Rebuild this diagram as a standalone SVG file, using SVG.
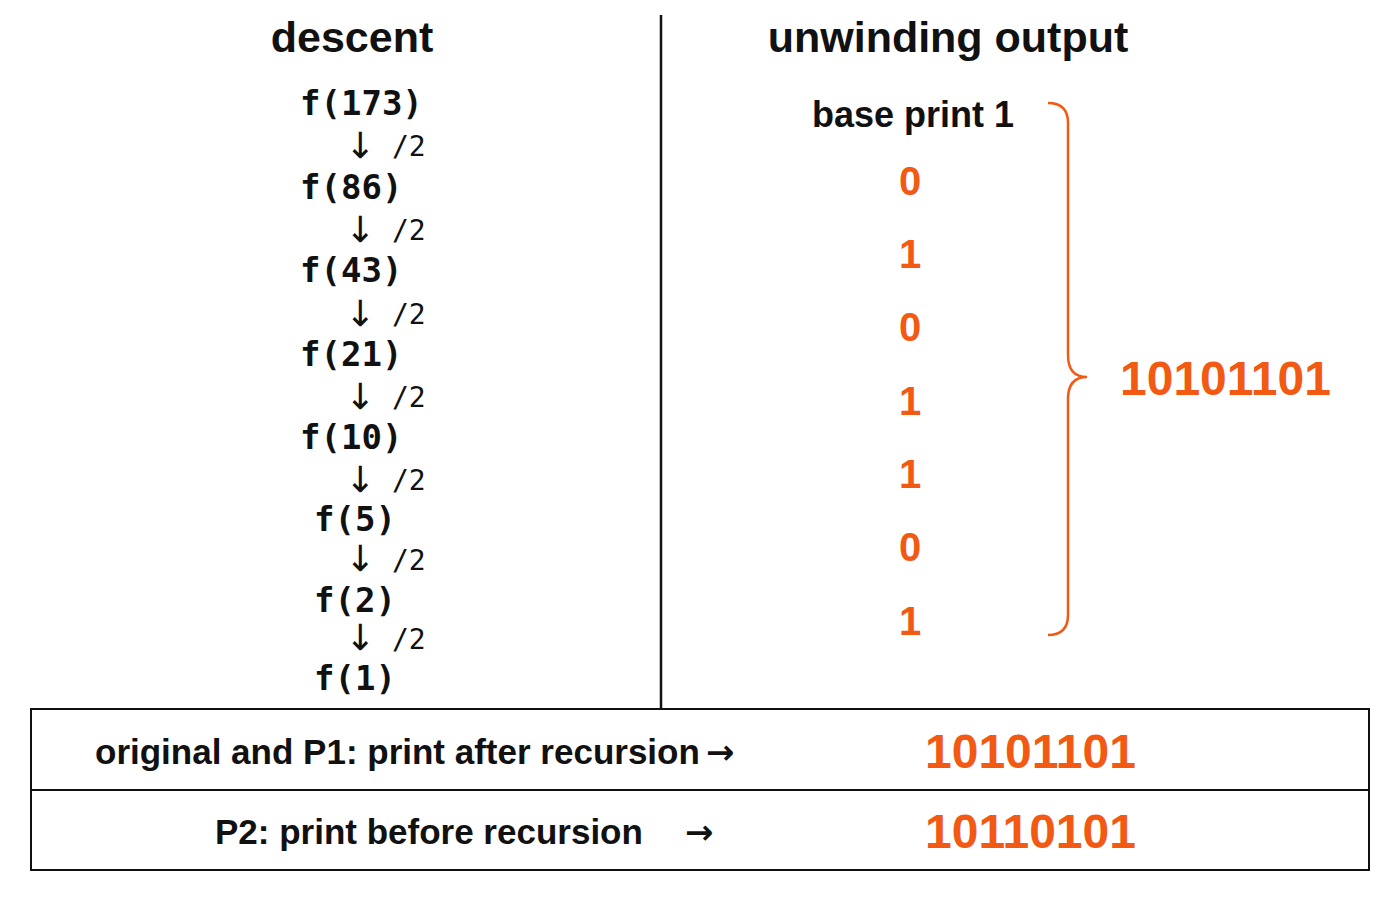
<svg xmlns="http://www.w3.org/2000/svg" width="1400" height="900" viewBox="0 0 1400 900">
<style>
.h{font-family:"Liberation Sans",Arial,sans-serif;font-size:43px;font-weight:bold;fill:#111;text-anchor:middle}
.m{font-family:"DejaVu Sans Mono","Liberation Mono",monospace;font-size:34px;font-weight:bold;fill:#111}
.a{font-family:"DejaVu Sans","Liberation Sans",sans-serif;font-size:36px;fill:#111}
.s{font-family:"DejaVu Sans Mono",monospace;font-size:28px;fill:#111}
.o{font-family:"Liberation Sans",Arial,sans-serif;font-size:40px;font-weight:bold;fill:#f25a14;text-anchor:middle}
.t{font-family:"Liberation Sans",Arial,sans-serif;font-size:35px;font-weight:bold;fill:#111}
.big{font-family:"Liberation Sans",Arial,sans-serif;font-size:48px;font-weight:bold;fill:#f25a14}
.ar{font-family:"DejaVu Sans",sans-serif;font-size:34px;font-weight:bold;fill:#111}
</style>
<rect width="1400" height="900" fill="#fff"/>
<g id="headers">
<text class="h" x="352" y="52">descent</text>
<text class="h" x="948" y="52">unwinding output</text>
</g>
<g id="connectors" stroke="#111" stroke-width="2.5" fill="none">
<line x1="661" y1="15" x2="661" y2="708"/>
<path d="M1048,103 Q1068,103 1068,123 L1068,355 Q1068,377 1087,377 Q1068,377 1068,399 L1068,615 Q1068,635 1048,635" stroke="#f25a14"/>
</g>
<g id="descent">
<text class="m" x="300" y="115">f(173)</text>
<text class="m" x="300" y="199">f(86)</text>
<text class="m" x="300" y="282">f(43)</text>
<text class="m" x="300" y="366">f(21)</text>
<text class="m" x="300" y="449">f(10)</text>
<text class="m" x="314" y="531">f(5)</text>
<text class="m" x="314" y="612">f(2)</text>
<text class="m" x="314" y="690">f(1)</text>
<g>
<text class="a" x="345" y="158">↓</text><text class="s" x="392" y="156">/2</text>
<text class="a" x="345" y="242">↓</text><text class="s" x="392" y="240">/2</text>
<text class="a" x="345" y="326">↓</text><text class="s" x="392" y="324">/2</text>
<text class="a" x="345" y="409">↓</text><text class="s" x="392" y="407">/2</text>
<text class="a" x="345" y="492">↓</text><text class="s" x="392" y="490">/2</text>
<text class="a" x="345" y="571">↓</text><text class="s" x="392" y="570">/2</text>
<text class="a" x="345" y="650">↓</text><text class="s" x="392" y="649">/2</text>
</g>
</g>
<g id="unwind">
<text class="t" x="913" y="127" text-anchor="middle" style="font-size:36px">base print 1</text>
<text class="o" x="910" y="195">0</text>
<text class="o" x="910" y="268">1</text>
<text class="o" x="910" y="341">0</text>
<text class="o" x="910" y="415">1</text>
<text class="o" x="910" y="488">1</text>
<text class="o" x="910" y="561">0</text>
<text class="o" x="910" y="635">1</text>
<text class="big" x="1120" y="395">10101101</text>
</g>
<g id="table" stroke="#111" stroke-width="2" fill="none">
<rect x="31" y="709" width="1338" height="161"/>
<line x1="31" y1="790" x2="1369" y2="790"/>
</g>
<g id="rows">
<text class="t" x="95" y="764">original and P1: print after recursion</text>
<text class="ar" x="706" y="764">→</text>
<text class="big" x="925" y="768">10101101</text>
<text class="t" x="215" y="844">P2: print before recursion</text>
<text class="ar" x="685" y="844">→</text>
<text class="big" x="925" y="848">10110101</text>
</g>
</svg>
